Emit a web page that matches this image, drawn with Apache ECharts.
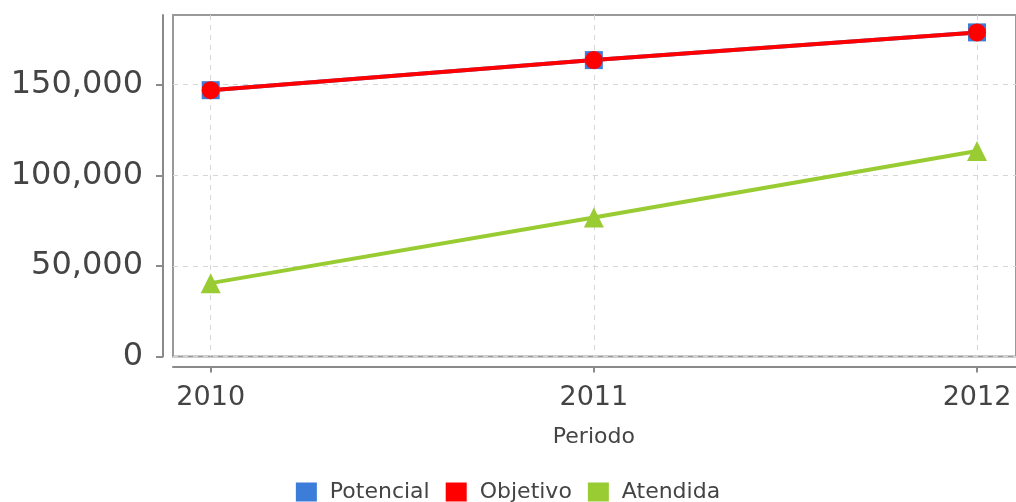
<!DOCTYPE html>
<html>
<head>
<meta charset="utf-8">
<script src="https://cdn.jsdelivr.net/npm/echarts@6/dist/echarts.min.js"></script>
<style>
html,body{margin:0;padding:0;background:#fff;}
#c{width:1016px;height:502px;}
</style>
</head>
<body>
<div id="c"></div>
<script>
const categories = ['2010', '2011', '2012'];
const potencial = [147000, 163600, 178900];
const objetivo = [147000, 163600, 178900];
const atendida = [40500, 76700, 113400];
const yTicks = [0, 50000, 100000, 150000];
const yMax = 188500;

const FONT = 'DejaVu Sans';
const chart = echarts.init(document.getElementById('c'));
chart.setOption({
  animation: false,
  backgroundColor: '#fff',
  grid: [
    { left: 173, right: -3, top: 15, bottom: 145.5, show: true, borderColor: '#999', borderWidth: 2, backgroundColor: 'transparent' },
    { left: 210.7, right: 39, top: 15, bottom: 145.5 }
  ],
  xAxis: [
    { gridIndex: 0, type: 'value', min: 0, max: 1, offset: 10,
      axisLine: { show: true, onZero: false, lineStyle: { color: '#8a8a8a', width: 2 } },
      axisTick: { show: false }, axisLabel: { show: false }, splitLine: { show: false } },
    { gridIndex: 1, type: 'category', data: categories, boundaryGap: false, offset: 10,
      axisLine: { show: false, onZero: false },
      axisTick: { show: true, length: 6, lineStyle: { color: '#8a8a8a', width: 2 } },
      axisLabel: { fontFamily: FONT, fontSize: 27, color: '#444', margin: 18 },
      splitLine: { show: true, lineStyle: { color: '#d6d6d6', type: [5, 5], width: 1 } },
      name: 'Periodo', nameLocation: 'middle', nameGap: 60,
      nameTextStyle: { fontFamily: FONT, fontSize: 22, color: '#444' } }
  ],
  yAxis: [
    { gridIndex: 0, type: 'value', min: 0, max: yMax, interval: 50000, offset: 10,
      axisLine: { show: true, onZero: false, lineStyle: { color: '#8a8a8a', width: 2 } },
      axisTick: { show: true, length: 7, customValues: yTicks, lineStyle: { color: '#8a8a8a', width: 2 } },
      axisLabel: { customValues: yTicks, fontFamily: FONT, fontSize: 32, color: '#444', margin: 20,
        formatter: v => v.toLocaleString('en-US') },
      splitLine: { show: true, lineStyle: { color: '#d6d6d6', type: [5, 5], width: 1 } } },
    { gridIndex: 1, type: 'value', min: 0, max: yMax, show: false, splitLine: { show: false } }
  ],
  legend: {
    top: 476, left: 'center', icon: 'rect', itemWidth: 21, itemHeight: 19, itemGap: 16,
    textStyle: { fontFamily: FONT, fontSize: 22, color: '#444', padding: [0, 0, 0, 8] },
    data: ['Potencial', 'Objetivo', 'Atendida']
  },
  series: [
    { name: 'Potencial', type: 'line', xAxisIndex: 1, yAxisIndex: 1, data: potencial,
      color: '#3b7dd8', symbol: 'rect', symbolSize: 18, lineStyle: { width: 4 } },
    { name: 'Objetivo', type: 'line', xAxisIndex: 1, yAxisIndex: 1, data: objetivo,
      color: '#ff0000', symbol: 'circle', symbolSize: 18, lineStyle: { width: 4 } },
    { name: 'Atendida', type: 'line', xAxisIndex: 1, yAxisIndex: 1, data: atendida,
      color: '#99cc33', symbol: 'triangle', symbolSize: 20, lineStyle: { width: 4 } }
  ]
});
</script>
</body>
</html>
